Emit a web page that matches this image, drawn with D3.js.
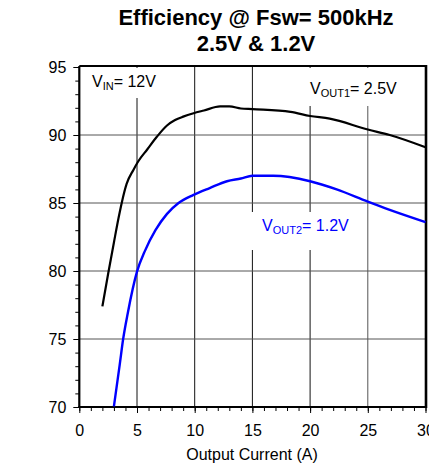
<!DOCTYPE html>
<html><head><meta charset="utf-8">
<script src="https://cdn.jsdelivr.net/npm/d3@7"></script>
<style>body{margin:0;background:#fff}svg{display:block;font-family:"Liberation Sans",Arial,sans-serif}</style>
</head><body>
<script>
const xTicks = [0,5,10,15,20,25,30];
const yTicks = [70,75,80,85,90,95];
const vout1X = [2,2.5,3.0,3.4,3.7,4.1,4.7,5.1,5.9,6.7,7.6,8.3,9.0,9.9,10.8,12.2,13,14,15,18.3,20,21.7,25,26.9,30];
const vout1Y = [77.4,79.8,82.1,83.9,85.1,86.4,87.45,88.05,88.95,89.85,90.7,91.1,91.35,91.6,91.8,92.1,92.1,91.95,91.9,91.7,91.4,91.2,90.4,90.0,89.1];
const vout2X = [3,3.5,3.8,4.2,5,5.7,6.6,7.6,8.6,9.9,11.3,12.8,14,15,16.8,20,22.3,25,26.9,30];
const vout2Y = [70.05,73.1,75.0,76.9,79.95,81.5,83.0,84.2,85.0,85.6,86.1,86.6,86.8,87.0,87.0,86.6,86.0,85.1,84.5,83.6];

const W=429,H=467;
const L=79.3,R=425.5,T=67,B=407;
const FF="Liberation Sans, Arial, sans-serif";
const svg=d3.select("body").append("svg").attr("width",W).attr("height",H);
const x=d3.scaleLinear().domain([0,30]).range([L,R]);
const y=d3.scaleLinear().domain([70,95]).range([B,T]);

// gridlines
const g=svg.append("g");
g.selectAll("line.v").data(xTicks.filter(d=>d>0&&d<30)).enter().append("line")
 .attr("x1",d=>x(d)).attr("x2",d=>x(d)).attr("y1",T).attr("y2",B)
 .attr("stroke",d=>d===25?"#555":"#111").attr("stroke-width",1);
g.selectAll("line.h").data(yTicks.filter(d=>d>70&&d<95)).enter().append("line")
 .attr("x1",L).attr("x2",R).attr("y1",d=>y(d)).attr("y2",d=>y(d))
 .attr("stroke","#555").attr("stroke-width",1);

// label background boxes (break gridlines)
svg.append("rect").attr("x",x(3.5)).attr("y",T+1).attr("width",x(6.5)-x(3.5)).attr("height",30).attr("fill","#fff");
svg.append("rect").attr("x",x(19)).attr("y",T+1).attr("width",x(27)-x(19)).attr("height",38).attr("fill","#fff");
svg.append("rect").attr("x",x(14)).attr("y",212).attr("width",x(21)-x(14)).attr("height",38).attr("fill","#fff");

// axes
svg.append("g").attr("transform",`translate(0,${B})`).call(d3.axisBottom(x).tickValues(d3.range(0,31,1)).tickSize(4).tickFormat(""))
 .call(s=>{s.select(".domain").remove();s.selectAll("line").attr("stroke","#000")});
svg.append("g").attr("transform",`translate(0,${B})`).call(d3.axisBottom(x).tickValues(xTicks).tickSize(6).tickPadding(12))
 .call(s=>{s.select(".domain").remove();s.selectAll("line").attr("stroke","#000");s.selectAll("text").attr("font-size",16).attr("fill","#000").attr("font-family",FF)});
svg.append("g").attr("transform",`translate(${L},0)`).call(d3.axisLeft(y).tickValues(d3.range(70,96,1)).tickSize(4).tickFormat(""))
 .call(s=>{s.select(".domain").remove();s.selectAll("line").attr("stroke","#000")});
svg.append("g").attr("transform",`translate(${L},0)`).call(d3.axisLeft(y).tickValues(yTicks).tickSize(6).tickPadding(7))
 .call(s=>{s.select(".domain").remove();s.selectAll("line").attr("stroke","#000");s.selectAll("text").attr("font-size",16).attr("fill","#000").attr("font-family",FF)});

// frame
svg.append("line").attr("x1",L).attr("x2",L).attr("y1",T-1).attr("y2",B+1).attr("stroke","#000").attr("stroke-width",2.2);
svg.append("line").attr("x1",L-1).attr("x2",R+1).attr("y1",B).attr("y2",B).attr("stroke","#000").attr("stroke-width",2.2);
svg.append("line").attr("x1",L).attr("x2",R).attr("y1",T-1).attr("y2",T-1).attr("stroke","#000").attr("stroke-width",2);
svg.append("line").attr("x1",R+0.5).attr("x2",R+0.5).attr("y1",T-2).attr("y2",B+1).attr("stroke","#000").attr("stroke-width",2.6);

// curves
const line=d3.line().x(d=>x(d[0])).y(d=>y(d[1])).curve(d3.curveMonotoneX);
svg.append("path").attr("d",line(vout1X.map((v,i)=>[v,vout1Y[i]]))).attr("fill","none").attr("stroke","#000").attr("stroke-width",2.2);
svg.append("path").attr("d",line(vout2X.map((v,i)=>[v,vout2Y[i]]))).attr("fill","none").attr("stroke","#0000ff").attr("stroke-width",2.4);

// labels
function lab(xp,yp,sub,rest,color){
  const t=svg.append("text").attr("x",xp).attr("y",yp).attr("font-size",16).attr("fill",color);
  t.append("tspan").text("V");
  t.append("tspan").attr("font-size",11).attr("dy",3).text(sub);
  t.append("tspan").attr("dy",-3).text(rest);
}
lab(92,86.5,"IN","= 12V","#000");
lab(310,94,"OUT1","= 2.5V","#000");
lab(262,231,"OUT2","= 1.2V","#0000ff");

// titles
svg.append("text").attr("x",256).attr("y",24.5).attr("text-anchor","middle").attr("font-size",22).attr("font-weight","bold").text("Efficiency @ Fsw= 500kHz");
svg.append("text").attr("x",256).attr("y",50.5).attr("text-anchor","middle").attr("font-size",22).attr("font-weight","bold").text("2.5V & 1.2V");
svg.append("text").attr("x",252).attr("y",460).attr("text-anchor","middle").attr("font-size",16).text("Output Current (A)");
</script>
</body></html>
